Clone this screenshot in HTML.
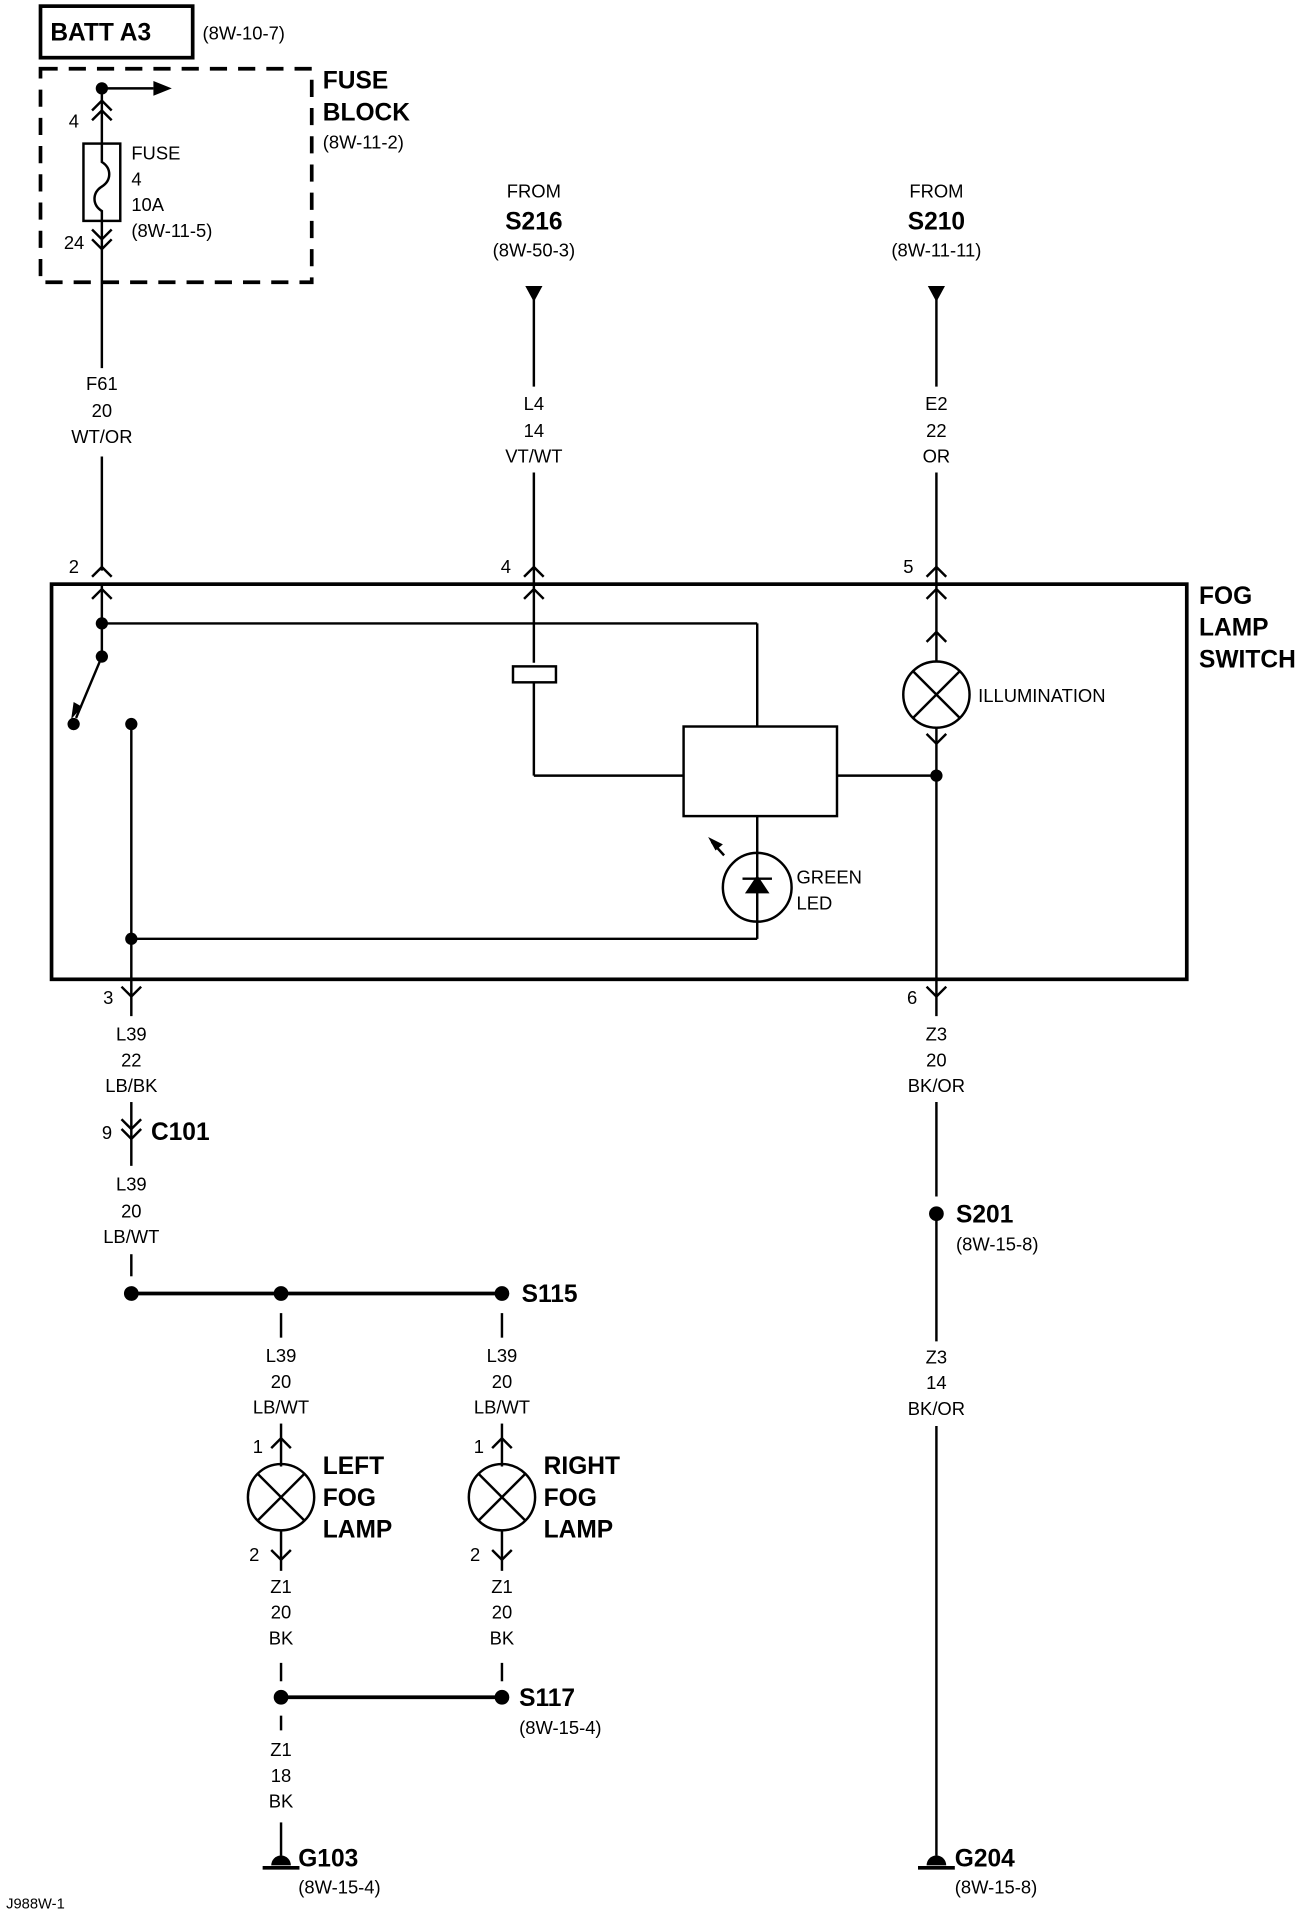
<!DOCTYPE html>
<html><head><meta charset="utf-8"><style>
html,body{margin:0;padding:0;background:#fff}
svg{display:block}
text{font-family:"Liberation Sans",sans-serif;fill:#000}
.s{font-size:15px}
.b{font-size:20px;font-weight:bold}
</style></head><body>
<svg width="1296" height="1912" viewBox="0 0 1056 1558" preserveAspectRatio="none" xmlns="http://www.w3.org/2000/svg">
<g stroke="#000" stroke-width="2" fill="none">
<rect x="33" y="5" width="124" height="42" stroke-width="3"/>
<rect x="33" y="56" width="221" height="174" stroke-width="3" stroke-dasharray="14 9"/>
<line x1="83" y1="72" x2="83" y2="300"/>
<line x1="83" y1="372" x2="83" y2="465"/>
<line x1="83" y1="72" x2="125" y2="72"/>
<polyline points="75,90 83,82 91,90"/><polyline points="75,98 83,90 91,98"/>
<rect x="68" y="117" width="30" height="63" fill="#fff"/>
<path d="M83,117 v15 c8,5 8,15 0,20 c-8,5 -8,15 0,20 v8"/>
<polyline points="75,187 83,195 91,187"/><polyline points="75,195 83,203 91,195"/>
<polyline points="75,470 83,462 91,470"/><polyline points="75,488 83,480 91,488"/>
<polyline points="427,470 435,462 443,470"/><polyline points="427,488 435,480 443,488"/>
<polyline points="755,470 763,462 771,470"/><polyline points="755,488 763,480 771,488"/>
<line x1="435" y1="240" x2="435" y2="315"/>
<line x1="435" y1="385" x2="435" y2="540"/>
<line x1="763" y1="240" x2="763" y2="315"/>
<line x1="763" y1="385" x2="763" y2="540"/>
<rect x="42" y="476" width="925" height="322" stroke-width="3"/>
<line x1="83" y1="476" x2="83" y2="535"/>
<line x1="83" y1="508" x2="617" y2="508"/>
<line x1="617" y1="508" x2="617" y2="592"/>
<line x1="83" y1="535" x2="62" y2="585"/>
<line x1="107" y1="590" x2="107" y2="812"/>
<line x1="107" y1="765" x2="617" y2="765"/>
<line x1="617" y1="665" x2="617" y2="765"/>
<circle cx="617" cy="723" r="28"/>
<line x1="605" y1="716" x2="629" y2="716"/>
<line x1="590" y1="697" x2="580" y2="686"/>
<rect x="557" y="592" width="125" height="73" fill="#fff"/>
<rect x="418" y="543" width="35" height="13" fill="#fff"/>
<line x1="435" y1="556" x2="435" y2="632"/>
<line x1="435" y1="632" x2="557" y2="632"/>
<line x1="682" y1="632" x2="763" y2="632"/>
<polyline points="755,523 763,515 771,523"/>
<line x1="763" y1="540" x2="763" y2="812"/>
<circle cx="763" cy="566" r="27" fill="#fff"/>
<line x1="744" y1="547" x2="782" y2="585"/><line x1="782" y1="547" x2="744" y2="585"/>
<polyline points="755,598 763,606 771,598"/>
<polyline points="99,804 107,812 115,804"/>
<polyline points="755,804 763,812 771,804"/>
<line x1="107" y1="812" x2="107" y2="828"/><line x1="763" y1="812" x2="763" y2="828"/>
<line x1="107" y1="898" x2="107" y2="950"/>
<polyline points="99,912 107,920 115,912"/><polyline points="99,920 107,928 115,920"/>
<line x1="107" y1="1022" x2="107" y2="1040"/>
<line x1="763" y1="898" x2="763" y2="975"/>
<line x1="763" y1="989" x2="763" y2="1093"/>
<line x1="763" y1="1162" x2="763" y2="1512"/>
<line x1="107" y1="1054" x2="409" y2="1054" stroke-width="3"/>
<line x1="229" y1="1070" x2="229" y2="1090"/><line x1="409" y1="1070" x2="409" y2="1090"/>
<g id="lamp">
<line x1="229" y1="1160" x2="229" y2="1195"/>
<polyline points="221,1180 229,1172 237,1180"/>
<circle cx="229" cy="1220" r="27"/>
<line x1="210" y1="1201" x2="248" y2="1239"/><line x1="248" y1="1201" x2="210" y2="1239"/>
<line x1="229" y1="1247" x2="229" y2="1280"/>
<polyline points="221,1263 229,1271 237,1263"/>
<line x1="229" y1="1355" x2="229" y2="1370"/>
</g>
<use href="#lamp" x="180"/>
<line x1="229" y1="1383" x2="409" y2="1383" stroke-width="3"/>
<line x1="229" y1="1398" x2="229" y2="1410"/>
<line x1="229" y1="1485" x2="229" y2="1512"/>
<line x1="214" y1="1522" x2="244" y2="1522" stroke-width="3"/>
<line x1="748" y1="1522" x2="778" y2="1522" stroke-width="3"/>
</g>
<g fill="#000">
<circle cx="83" cy="72" r="5"/>
<polygon points="125,66 140,72 125,78"/>
<polygon points="428,233 442,233 435,246"/>
<polygon points="756,233 770,233 763,246"/>
<circle cx="83" cy="508" r="5"/><circle cx="83" cy="535" r="5"/>
<circle cx="60" cy="590" r="5"/><circle cx="107" cy="590" r="5"/>
<polygon points="58,586 60,572 67,576"/>
<circle cx="107" cy="765" r="5"/><circle cx="763" cy="632" r="5"/>
<polygon points="607,728 627,728 617,713"/>
<polygon points="577,682 589,688 583,693"/>
<circle cx="763" cy="989" r="6"/>
<circle cx="107" cy="1054" r="6"/><circle cx="229" cy="1054" r="6"/><circle cx="409" cy="1054" r="6"/>
<circle cx="229" cy="1383" r="6"/><circle cx="409" cy="1383" r="6"/>
<path d="M221,1520 a8,8 0 0 1 16,0 z"/><path d="M755,1520 a8,8 0 0 1 16,0 z"/>
</g>
<text class="b" x="41" y="33">BATT A3</text>
<text class="s" x="165" y="32">(8W-10-7)</text>
<text class="b" x="263" y="72">FUSE</text><text class="b" x="263" y="98">BLOCK</text>
<text class="s" x="263" y="121">(8W-11-2)</text>
<text class="s" x="56" y="104">4</text>
<text class="s" x="107" y="130">FUSE</text><text class="s" x="107" y="151">4</text><text class="s" x="107" y="172">10A</text><text class="s" x="107" y="193">(8W-11-5)</text>
<text class="s" x="52" y="203">24</text>
<g class="s" text-anchor="middle">
<text x="83" y="318">F61</text><text x="83" y="340">20</text><text x="83" y="361">WT/OR</text>
<text x="435" y="161">FROM</text><text x="435" y="209">(8W-50-3)</text>
<text x="435" y="334">L4</text><text x="435" y="356">14</text><text x="435" y="377">VT/WT</text>
<text x="763" y="161">FROM</text><text x="763" y="209">(8W-11-11)</text>
<text x="763" y="334">E2</text><text x="763" y="356">22</text><text x="763" y="377">OR</text>
<text x="107" y="848">L39</text><text x="107" y="869">22</text><text x="107" y="890">LB/BK</text>
<text x="107" y="970">L39</text><text x="107" y="992">20</text><text x="107" y="1013">LB/WT</text>
<text x="763" y="848">Z3</text><text x="763" y="869">20</text><text x="763" y="890">BK/OR</text>
<text x="763" y="1111">Z3</text><text x="763" y="1132">14</text><text x="763" y="1153">BK/OR</text>
<text x="229" y="1110">L39</text><text x="229" y="1131">20</text><text x="229" y="1152">LB/WT</text>
<text x="409" y="1110">L39</text><text x="409" y="1131">20</text><text x="409" y="1152">LB/WT</text>
<text x="229" y="1298">Z1</text><text x="229" y="1319">20</text><text x="229" y="1340">BK</text>
<text x="409" y="1298">Z1</text><text x="409" y="1319">20</text><text x="409" y="1340">BK</text>
<text x="229" y="1431">Z1</text><text x="229" y="1452">18</text><text x="229" y="1473">BK</text>
</g>
<text class="b" x="435" y="187" text-anchor="middle">S216</text>
<text class="b" x="763" y="187" text-anchor="middle">S210</text>
<text class="s" x="56" y="467">2</text><text class="s" x="408" y="467">4</text><text class="s" x="736" y="467">5</text>
<text class="b" x="977" y="492">FOG</text><text class="b" x="977" y="518">LAMP</text><text class="b" x="977" y="544">SWITCH</text>
<text class="s" x="797" y="572">ILLUMINATION</text>
<text class="s" x="649" y="720">GREEN</text><text class="s" x="649" y="741">LED</text>
<text class="s" x="84" y="818">3</text><text class="s" x="739" y="818">6</text>
<text class="s" x="83" y="928">9</text><text class="b" x="123" y="929">C101</text>
<text class="b" x="779" y="996">S201</text><text class="s" x="779" y="1019">(8W-15-8)</text>
<text class="b" x="425" y="1061">S115</text>
<text class="s" x="206" y="1184">1</text><text class="s" x="386" y="1184">1</text>
<text class="s" x="203" y="1272">2</text><text class="s" x="383" y="1272">2</text>
<text class="b" x="263" y="1201">LEFT</text><text class="b" x="263" y="1227">FOG</text><text class="b" x="263" y="1253">LAMP</text>
<text class="b" x="443" y="1201">RIGHT</text><text class="b" x="443" y="1227">FOG</text><text class="b" x="443" y="1253">LAMP</text>
<text class="b" x="423" y="1390">S117</text><text class="s" x="423" y="1413">(8W-15-4)</text>
<text class="b" x="243" y="1521">G103</text><text class="s" x="243" y="1543">(8W-15-4)</text>
<text class="b" x="778" y="1521">G204</text><text class="s" x="778" y="1543">(8W-15-8)</text>
<text x="5" y="1555" style="font-size:12px">J988W-1</text>
</svg>
</body></html>
